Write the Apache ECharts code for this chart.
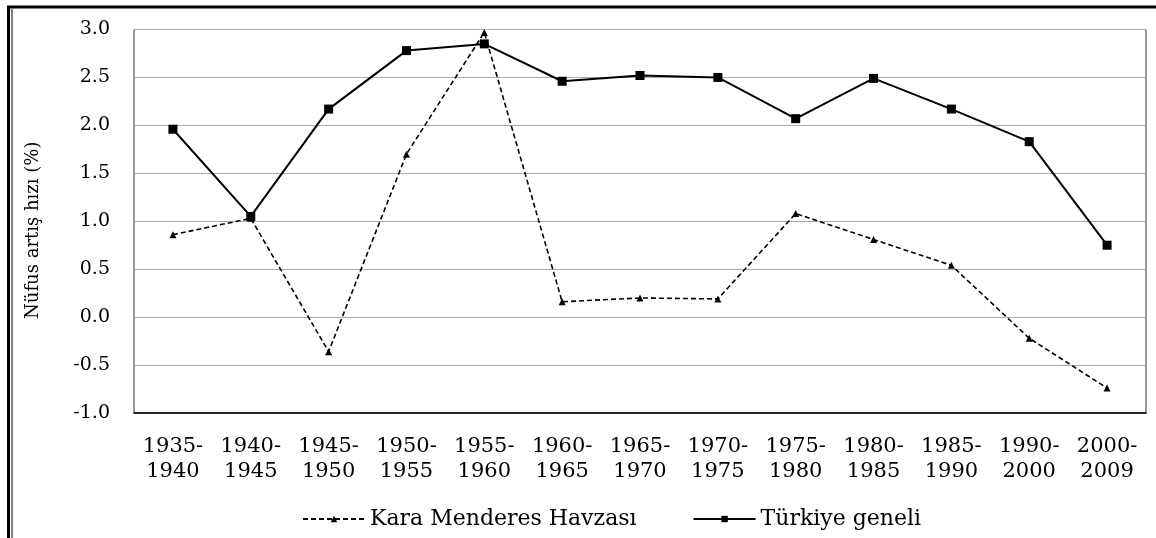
<!DOCTYPE html>
<html>
<head>
<meta charset="utf-8">
<script src="https://cdn.jsdelivr.net/npm/echarts@6/dist/echarts.min.js"></script>
<style>
  html, body { margin: 0; padding: 0; background: #fff; }
  #chart { width: 1156px; height: 538px; }
</style>
</head>
<body>
<div id="chart"></div>
<script>
// periods on the x axis
var categories = ['1935-\n1940', '1940-\n1945', '1945-\n1950', '1950-\n1955', '1955-\n1960', '1960-\n1965',
    '1965-\n1970', '1970-\n1975', '1975-\n1980', '1980-\n1985', '1985-\n1990', '1990-\n2000', '2000-\n2009']

// Kara Menderes Havzası (dashed, triangles)
var karaMenderes = [0.86, 1.03, -0.36, 1.70, 2.97, 0.16, 0.20, 0.19, 1.08, 0.81, 0.54, -0.22, -0.74]
// Türkiye geneli (solid, squares)
var turkiye = [1.96, 1.05, 2.17, 2.78, 2.85, 2.46, 2.52, 2.50, 2.07, 2.49, 2.17, 1.83, 0.75]

var serif = 'DejaVu Serif'

var chart = echarts.init(document.getElementById('chart'))

var option = {
    backgroundColor: '#fff',
    animation: false,
    textStyle: { fontFamily: serif, color: '#000' },
    graphic: [
        // outer frame of the figure
        { type: 'line', shape: { x1: 7, y1: 7, x2: 1156, y2: 7 }, style: { stroke: '#000', lineWidth: 3 } },
        { type: 'line', shape: { x1: 8.5, y1: 6, x2: 8.5, y2: 538 }, style: { stroke: '#000', lineWidth: 3 } },
        { type: 'line', shape: { x1: 12, y1: 9, x2: 12, y2: 538 }, style: { stroke: '#000', lineWidth: 1 } }
    ],
    grid: {
        left: 134,
        right: 10,
        top: 29.5,
        bottom: 125,
        show: true,
        borderColor: '#333',
        borderWidth: 1
    },
    legend: {
        bottom: 3,
        left: 297,
        itemWidth: 62,
        itemHeight: 8,
        itemGap: 56,
        textStyle: { fontFamily: serif, fontSize: 22, color: '#000' },
        data: ['Kara Menderes Havzası', 'Türkiye geneli']
    },
    xAxis: {
        type: 'category',
        data: categories,
        boundaryGap: true,
        axisLine: { onZero: false, lineStyle: { color: '#000', width: 1.5 } },
        axisTick: { inside: true, length: 8, lineStyle: { color: '#000' } },
        axisLabel: {
            interval: 0,
            margin: 21,
            fontFamily: serif,
            fontSize: 21,
            lineHeight: 25,
            color: '#000'
        }
    },
    yAxis: {
        type: 'value',
        min: -1,
        max: 3,
        interval: 0.5,
        name: 'Nüfus artış hızı (%)',
        nameLocation: 'middle',
        nameGap: 92,
        nameTextStyle: { fontFamily: serif, fontSize: 18, color: '#000', padding: [0, 18, 0, 0] },
        axisLine: { show: false },
        axisTick: { show: false },
        splitLine: { lineStyle: { color: '#aaa', width: 1 } },
        axisLabel: {
            margin: 24,
            fontFamily: serif,
            fontSize: 19,
            color: '#000',
            formatter: function (v) { return v.toFixed(1) }
        }
    },
    series: [
        {
            name: 'Kara Menderes Havzası',
            type: 'line',
            data: karaMenderes,
            symbol: 'triangle',
            symbolSize: 7,
            itemStyle: { color: '#000' },
            lineStyle: { color: '#000', width: 1.6, type: [5, 3] }
        },
        {
            name: 'Türkiye geneli',
            type: 'line',
            data: turkiye,
            symbol: 'rect',
            symbolSize: 9,
            itemStyle: { color: '#000' },
            lineStyle: { color: '#000', width: 2 }
        }
    ]
}

chart.setOption(option)
</script>
</body>
</html>
